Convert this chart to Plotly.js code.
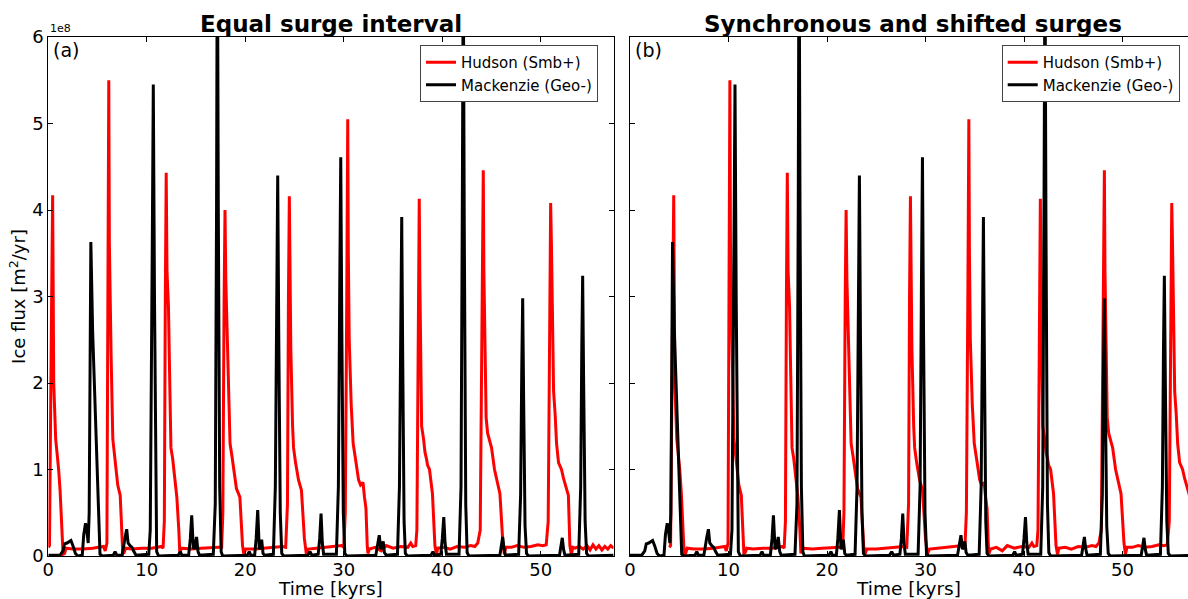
<!DOCTYPE html>
<html>
<head>
<meta charset="utf-8">
<script src="https://cdn.plot.ly/plotly-3.0.1.min.js"></script>
<style>
  html, body { margin: 0; padding: 0; background: #fff; }
  #chart { width: 1188px; height: 599px; }
</style>
</head>
<body>
<div id="chart"></div>
<script>
// ---- Data (ice flux in units of 1e8 m^2/yr, time in kyrs) ----
const panelTitles = ["Equal surge interval", "Synchronous and shifted surges"];
const panelLabels = ["(a)", "(b)"];
const seriesNames = ["Hudson (Smb+)", "Mackenzie (Geo-)"];
const xTickVals = [0, 10, 20, 30, 40, 50];
const yTickVals = [0, 1, 2, 3, 4, 5, 6];

// Hudson, panel (a)
const hudsonTimeA = [
  0, 0.12, 0.3, 0.44, 0.5, 0.55, 0.75, 0.9, 1.05, 1.2, 1.4, 1.5, 1.65, 1.8, 2.5, 3.5, 4.5, 5.3, 5.6, 5.78,
  5.95, 6.05, 6.14, 6.2, 6.28, 6.38, 6.55, 6.68, 6.85, 7.05, 7.3, 7.48, 7.56, 7.7, 7.85,
  8.5, 9.5, 10.5, 11.2, 11.5, 11.65,
  11.78, 11.88, 11.97, 12.05, 12.2, 12.3, 12.45, 12.62, 12.85, 13.05, 13.25, 13.35, 13.5,
  14.5, 15.5, 16.5, 17.3, 17.6,
  17.72, 17.85, 17.94, 18.02, 18.15, 18.3, 18.45, 18.65, 18.8, 19.1, 19.45, 19.72, 19.85, 20.05,
  21, 22, 23, 23.8, 24.1,
  24.28, 24.38, 24.47, 24.55, 24.62, 24.8, 24.9, 25.1, 25.4, 25.7, 26.0, 26.2, 26.4,
  27.2, 28.2, 29.2, 29.8, 30.0,
  30.15, 30.3, 30.4, 30.46, 30.55, 30.75, 30.95, 31.15, 31.5, 31.7, 31.95, 32.1, 32.25, 32.38, 32.45, 32.6,
  33.2, 33.8, 34.3, 35.0, 35.8, 36.5, 36.8, 37.0, 37.3,
  37.42, 37.55, 37.66, 37.72, 37.8, 37.9, 38.1, 38.24, 38.4, 38.5, 38.7, 38.85, 39.0, 39.25, 39.4, 39.55,
  40.2, 40.8, 41.5, 42.2, 42.9, 43.3, 43.6,
  43.85, 44.05, 44.16, 44.22, 44.32, 44.45, 44.6, 45.0, 45.3, 45.5, 45.85, 46.15, 46.3, 46.45,
  47.0, 47.6, 48.3, 49.0, 49.7, 50.2, 50.55,
  50.75, 50.9, 51.0, 51.08, 51.18, 51.3, 51.45, 51.6, 51.8, 52.1, 52.3, 52.5, 52.8, 52.95, 53.1, 53.25,
  53.5, 53.9, 54.3, 54.7, 55.0, 55.3, 55.6, 55.9, 56.2, 56.5, 56.8, 57.1, 57.4
];
const hudsonFlux = [
  0.1, 0.12, 2.5, 4.17, 3.0, 2.0, 1.35, 1.2, 1.0, 0.75, 0.3, 0.02, 0.03, 0.09, 0.08, 0.08, 0.09, 0.1, 0.11, 0.06,
  0.15, 3.0, 5.5, 3.6, 2.9, 2.3, 1.35, 1.22, 1.02, 0.82, 0.7, 0.2, 0.03, 0.04, 0.09,
  0.08, 0.09, 0.09, 0.1, 0.11, 0.09,
  0.4, 3.0, 4.43, 3.3, 2.88, 2.2, 1.25, 1.13, 0.85, 0.68, 0.3, 0.03, 0.09,
  0.08, 0.09, 0.1, 0.1, 0.1,
  0.5, 3.0, 4.0, 3.2, 2.6, 2.1, 1.3, 1.15, 1.03, 0.78, 0.68, 0.12, 0.02, 0.08,
  0.08, 0.09, 0.1, 0.11, 0.1,
  0.6, 3.0, 4.16, 3.2, 2.4, 1.5, 1.25, 1.08, 0.88, 0.76, 0.2, 0.02, 0.08,
  0.09, 0.1, 0.11, 0.12, 0.1,
  0.5, 3.0, 5.05, 3.5, 2.5, 1.75, 1.3, 1.15, 0.88, 0.82, 0.85, 0.68, 0.55, 0.12, 0.03, 0.08,
  0.1, 0.06, 0.12, 0.09, 0.11, 0.1, 0.15, 0.11, 0.12,
  0.3, 2.5, 4.13, 3.2, 2.2, 1.5, 1.35, 1.2, 1.12, 1.05, 1.0, 0.82, 0.72, 0.12, 0.02, 0.09,
  0.1, 0.08, 0.11, 0.1, 0.12, 0.11, 0.15,
  0.3, 2.8, 4.46, 3.3, 2.3, 1.6, 1.42, 1.25, 1.0, 0.9, 0.72, 0.15, 0.02, 0.1,
  0.1, 0.12, 0.1, 0.11, 0.13, 0.12, 0.13,
  0.4, 3.0, 4.08, 3.6, 2.6, 1.9, 1.65, 1.3, 1.08, 1.0, 0.9, 0.82, 0.7, 0.12, 0.02, 0.1,
  0.09, 0.11, 0.08, 0.12, 0.07, 0.13, 0.08, 0.12, 0.07, 0.11, 0.08, 0.12, 0.09
];
// Hudson, panel (b): same flux record, surges shifted ~4 kyr later
const hudsonTimeB = [
  4.0, 4.12, 4.3, 4.44, 4.5, 4.55, 4.75, 4.9, 5.05, 5.2, 5.4, 5.5, 5.65, 5.8, 6.5, 7.5, 8.5, 9.3, 9.6, 9.78,
  9.95, 10.05, 10.14, 10.2, 10.28, 10.38, 10.55, 10.68, 10.85, 11.05, 11.3, 11.48, 11.56, 11.7, 11.85,
  12.5, 13.5, 14.5, 15.2, 15.5, 15.65,
  15.78, 15.88, 15.97, 16.05, 16.2, 16.3, 16.45, 16.62, 16.85, 17.05, 17.25, 17.35, 17.5,
  18.5, 19.5, 20.5, 21.3, 21.6,
  21.72, 21.85, 21.94, 22.02, 22.15, 22.3, 22.45, 22.65, 22.8, 23.1, 23.45, 23.72, 23.85, 24.05,
  25, 26, 27, 27.8, 28.1,
  28.28, 28.38, 28.47, 28.55, 28.62, 28.8, 28.9, 29.1, 29.4, 29.7, 30.0, 30.2, 30.4,
  31.2, 32.2, 33.2, 33.8, 34.0,
  34.15, 34.3, 34.4, 34.46, 34.55, 34.75, 34.95, 35.15, 35.5, 35.7, 35.95, 36.1, 36.25, 36.38, 36.45, 36.6,
  37.2, 37.8, 38.3, 39.0, 39.8, 40.5, 40.8, 41.0, 41.3,
  41.42, 41.55, 41.66, 41.72, 41.8, 41.9, 42.1, 42.24, 42.4, 42.5, 42.7, 42.85, 43.0, 43.25, 43.4, 43.55,
  44.2, 44.8, 45.5, 46.2, 46.9, 47.3, 47.6,
  47.85, 48.05, 48.16, 48.22, 48.32, 48.45, 48.6, 49.0, 49.3, 49.5, 49.85, 50.15, 50.3, 50.45,
  51.0, 51.6, 52.3, 53.0, 53.7, 54.2, 54.55,
  54.75, 54.9, 55.0, 55.08, 55.18, 55.3, 55.45, 55.6, 55.8, 56.1, 56.3, 56.5, 56.8, 56.95, 57.1, 57.25,
  57.5, 57.9, 58.3, 58.7, 59.0, 59.3, 59.6, 59.9, 60.2, 60.5, 60.8, 61.1, 61.4
];

// Mackenzie (identical in both panels)
const mackenzieTime = [
  0, 1.2, 1.5, 1.65, 1.9, 2.1, 2.3, 2.5, 2.75, 3.0, 3.45, 3.6, 3.78, 3.9, 4.05, 4.15, 4.32, 4.5, 4.67, 4.9, 5.1, 5.25, 5.5,
  6.6, 6.78, 6.95,
  7.5, 7.65, 7.8, 7.96, 8.1, 8.3, 8.5, 8.65, 8.9,
  10.2, 10.35, 10.55, 10.66, 10.78, 10.9, 11.0, 11.2,
  13.2, 13.4, 13.55,
  14.25, 14.42, 14.56, 14.72, 14.85, 15.05, 15.2, 15.35,
  16.75, 16.95, 17.08, 17.16, 17.26, 17.4, 17.55, 17.7,
  20.2, 20.4, 20.55,
  20.95, 21.1, 21.26, 21.42, 21.55, 21.66, 21.8, 21.95,
  22.85, 23.05, 23.18, 23.29, 23.4, 23.55, 23.7, 23.9,
  26.35, 26.57, 26.75,
  27.4, 27.55, 27.69, 27.82, 27.95,
  29.25, 29.45, 29.58, 29.69, 29.8, 29.95, 30.1, 30.3,
  33.25, 33.45, 33.6, 33.75, 33.88, 34.0, 34.12, 34.3,
  35.45, 35.65, 35.78, 35.88, 35.98, 36.12, 36.25, 36.45,
  38.85, 39.05, 39.2,
  39.85, 40.0, 40.15, 40.28, 40.42,
  41.7, 41.9, 42.03, 42.13, 42.23, 42.38, 42.52, 42.7,
  45.85, 46.0, 46.13, 46.27, 46.4,
  47.75, 47.95, 48.07, 48.16, 48.26, 48.4, 48.55, 48.75,
  51.9, 52.05, 52.18, 52.32, 52.45,
  53.85, 54.05, 54.16, 54.25, 54.35, 54.5, 54.65, 54.85,
  57.4
];
const mackenzieFlux = [
  0.01, 0.01, 0.06, 0.14, 0.15, 0.17, 0.18, 0.12, 0.03, 0.0, 0.01, 0.25, 0.38, 0.3, 0.15, 0.5, 3.63, 2.6, 2.0, 1.2, 0.4, 0.02, 0.0,
  0.01, 0.05, 0.01,
  0.01, 0.15, 0.22, 0.31, 0.15, 0.12, 0.1, 0.06, 0.01,
  0.02, 0.3, 3.5, 5.45, 3.0, 0.8, 0.05, 0.0,
  0.01, 0.05, 0.01,
  0.01, 0.2, 0.47, 0.1, 0.08, 0.22, 0.05, 0.01,
  0.02, 0.6, 4.0, 7.5, 4.0, 0.8, 0.05, 0.0,
  0.01, 0.05, 0.01,
  0.01, 0.2, 0.53, 0.08, 0.1, 0.19, 0.03, 0.01,
  0.02, 0.8, 3.0, 4.4, 2.5, 0.5, 0.03, 0.0,
  0.01, 0.05, 0.01,
  0.02, 0.2, 0.49, 0.15, 0.02,
  0.02, 0.8, 3.0, 4.61, 2.6, 0.5, 0.03, 0.0,
  0.01, 0.12, 0.24, 0.08, 0.1, 0.17, 0.04, 0.01,
  0.02, 0.8, 2.8, 3.92, 2.3, 0.4, 0.03, 0.0,
  0.01, 0.05, 0.01,
  0.02, 0.2, 0.45, 0.15, 0.02,
  0.02, 0.8, 4.0, 7.0, 3.8, 0.6, 0.04, 0.0,
  0.01, 0.1, 0.22, 0.08, 0.01,
  0.02, 0.7, 2.2, 2.98, 1.8, 0.35, 0.03, 0.0,
  0.01, 0.1, 0.21, 0.07, 0.01,
  0.02, 0.8, 2.4, 3.24, 2.0, 0.4, 0.03, 0.0,
  0.01
];

// ---- Styling ----
const FONT = "DejaVu Sans, Liberation Sans, sans-serif";
const RED = "#ff0000", BLACK = "#000000";
const W = 1188, H = 599;
const plotLeftA = 48.3, plotRightA = 613.5, plotLeftB = 630;
const pxPerKyr = 9.85;

const traces = [
  {x: hudsonTimeA, y: hudsonFlux, xaxis: "x", yaxis: "y", name: seriesNames[0], mode: "lines",
   line: {color: RED, width: 3}, legend: "legend"},
  {x: mackenzieTime, y: mackenzieFlux, xaxis: "x", yaxis: "y", name: seriesNames[1], mode: "lines",
   line: {color: BLACK, width: 3}, legend: "legend"},
  {x: hudsonTimeB, y: hudsonFlux, xaxis: "x2", yaxis: "y2", name: seriesNames[0], mode: "lines",
   line: {color: RED, width: 3}, legend: "legend2"},
  {x: mackenzieTime, y: mackenzieFlux, xaxis: "x2", yaxis: "y2", name: seriesNames[1], mode: "lines",
   line: {color: BLACK, width: 3}, legend: "legend2"}
];

const axisCommon = {
  showgrid: false, zeroline: false, showline: true, linecolor: "#000", linewidth: 1,
  ticks: "inside", ticklen: 5, tickwidth: 1, tickcolor: "#000",
  tickfont: {family: FONT, size: 18, color: "#000"}
};

const legendCommon = {
  bgcolor: "#ffffff", bordercolor: "#444", borderwidth: 1,
  font: {family: FONT, size: 15, color: "#000"},
  xanchor: "left", yanchor: "top", y: 1 - 8 / 519, itemwidth: 30, tracegroupgap: 0
};

const layout = {
  width: W, height: H,
  margin: {l: 0, r: 0, t: 37, b: 43, autoexpand: false},
  paper_bgcolor: "#fff", plot_bgcolor: "#fff",
  showlegend: true,
  xaxis: Object.assign({}, axisCommon, {
    domain: [plotLeftA / W, plotRightA / W], range: [0, (plotRightA - plotLeftA) / pxPerKyr],
    tickvals: xTickVals, mirror: "ticks", anchor: "y", ticklabelstandoff: -3,
    title: {text: "Time [kyrs]", font: {family: FONT, size: 18.5, color: "#000"}, standoff: 6}
  }),
  yaxis: Object.assign({}, axisCommon, {
    domain: [0, 1], range: [0, 6], tickvals: yTickVals, mirror: "ticks", anchor: "x",
    title: {text: "Ice flux [m<sup>2</sup>/yr]", font: {family: FONT, size: 18, color: "#000"}, standoff: 1}
  }),
  xaxis2: Object.assign({}, axisCommon, {
    domain: [plotLeftB / W, 1], range: [0, (W - plotLeftB) / pxPerKyr],
    tickvals: xTickVals, mirror: "ticks", anchor: "y2", ticklabelstandoff: -3,
    title: {text: "Time [kyrs]", font: {family: FONT, size: 18.5, color: "#000"}, standoff: 6}
  }),
  yaxis2: Object.assign({}, axisCommon, {
    domain: [0, 1], range: [0, 6], tickvals: yTickVals, showticklabels: false, mirror: false, anchor: "x2"
  }),
  legend: Object.assign({}, legendCommon, {x: 420 / W}),
  legend2: Object.assign({}, legendCommon, {x: 1001.7 / W}),
  annotations: [
    {text: panelTitles[0], xref: "paper", yref: "paper", x: (plotLeftA + plotRightA) / 2 / W, y: 1,
     xanchor: "center", yanchor: "bottom", yshift: -2, showarrow: false,
     font: {family: FONT, size: 23, color: "#000", weight: "bold"}},
    {text: panelTitles[1], xref: "paper", yref: "paper", x: (plotLeftB + plotLeftB + (plotRightA - plotLeftA)) / 2 / W, y: 1,
     xanchor: "center", yanchor: "bottom", yshift: -2, showarrow: false,
     font: {family: FONT, size: 23, color: "#000", weight: "bold"}},
    {text: panelLabels[0], xref: "paper", yref: "paper", x: (plotLeftA + 3) / W, y: 1,
     xanchor: "left", yanchor: "top", yshift: 0, showarrow: false,
     font: {family: FONT, size: 19, color: "#000"}},
    {text: panelLabels[1], xref: "paper", yref: "paper", x: (plotLeftB + 3) / W, y: 1,
     xanchor: "left", yanchor: "top", yshift: 0, showarrow: false,
     font: {family: FONT, size: 19, color: "#000"}},
    {text: "1e8", xref: "paper", yref: "paper", x: plotLeftA / W, y: 1,
     xanchor: "left", yanchor: "bottom", yshift: 0, showarrow: false,
     font: {family: FONT, size: 11, color: "#000"}}
  ]
};

Plotly.newPlot("chart", traces, layout, {displayModeBar: false, staticPlot: true});
</script>
</body>
</html>
